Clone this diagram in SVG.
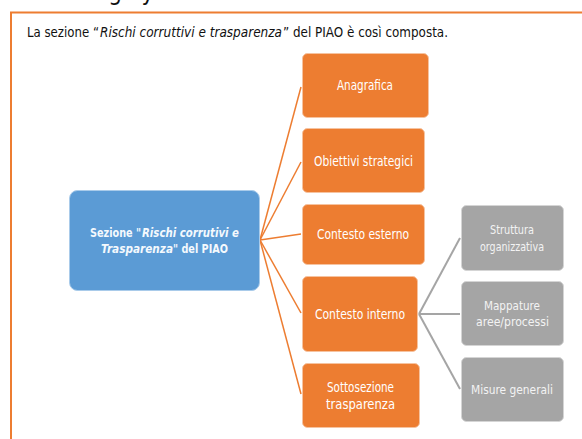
<svg xmlns="http://www.w3.org/2000/svg" width="582" height="439" viewBox="0 0 582 439">
<style>
text{font-family:"DejaVu Sans Condensed","DejaVu Sans","Noto Sans",sans-serif;font-stretch:condensed;fill:#fff;font-size:13.500px}
.h{fill:#111;font-size:14px}
.k{fill:#111;font-size:24px;text-anchor:middle}
.i{font-style:italic}
.w{font-weight:700;font-size:12.500px;fill:#f4f9fd}
.s{font-size:13px;fill:#f3f3f3}
.o rect{fill:#ed7d31;stroke:#f6c3a0;stroke-width:1}
.g rect{fill:#a5a5a5;stroke:#d5d5d5;stroke-width:1}
.b rect{fill:#5b9bd5;stroke:#a9cbea;stroke-width:1}
#conn1 line{stroke:#ed7d31;stroke-width:1.500}
#conn2 line{stroke:#a5a5a5;stroke-width:2}
</style>
<rect width="582" height="439" fill="#fff"/>
<text class="k" x="115" y="0">g</text>
<text class="k" x="148" y="0">y</text>
<path id="frame" d="M11 439V12.500H582" fill="none" stroke="#ed7d31" stroke-width="2"/>
<text class="h" x="27" y="37" textLength="72" lengthAdjust="spacingAndGlyphs">La sezione “</text>
<text class="h i" x="100" y="37" textLength="182" lengthAdjust="spacingAndGlyphs">Rischi corruttivi e trasparenza</text>
<text class="h" x="283" y="37" textLength="165" lengthAdjust="spacingAndGlyphs">” del PIAO è così composta.</text>
<g id="connectors">
<g id="conn1">
<line x1="260" y1="240" x2="301" y2="87"/>
<line x1="260" y1="240" x2="301" y2="162"/>
<line x1="260" y1="240" x2="301" y2="234"/>
<line x1="260" y1="240" x2="301" y2="313"/>
<line x1="260" y1="240" x2="301" y2="394"/>
</g>
<g id="conn2">
<line x1="419" y1="314" x2="460" y2="238"/>
<line x1="419" y1="314" x2="460" y2="314"/>
<line x1="419" y1="314" x2="460" y2="389"/>
</g>
</g>
<g id="n0" class="b"><rect x="69.500" y="190.500" width="190" height="100" rx="8"/>
<text class="w" x="90" y="237" textLength="51" lengthAdjust="spacingAndGlyphs">Sezione "</text>
<text class="w i" x="142" y="237" textLength="97" lengthAdjust="spacingAndGlyphs">Rischi corrutivi e</text>
<text class="w i" x="101" y="253" textLength="72" lengthAdjust="spacingAndGlyphs">Trasparenza</text>
<text class="w" x="173" y="253" textLength="55" lengthAdjust="spacingAndGlyphs">" del PIAO</text></g>
<g id="n1" class="o"><rect x="302.500" y="53.500" width="126" height="64" rx="5"/><text x="337" y="90" textLength="56" lengthAdjust="spacingAndGlyphs">Anagrafica</text></g>
<g id="n2" class="o"><rect x="302.500" y="128.500" width="122" height="64" rx="5"/><text x="314" y="166" textLength="99" lengthAdjust="spacingAndGlyphs">Obiettivi strategici</text></g>
<g id="n3" class="o"><rect x="302.500" y="204.500" width="122" height="60" rx="5"/><text x="317" y="239" textLength="92" lengthAdjust="spacingAndGlyphs">Contesto esterno</text></g>
<g id="n4" class="o"><rect x="302.500" y="276.500" width="115" height="75" rx="5"/><text x="315" y="319" textLength="90" lengthAdjust="spacingAndGlyphs">Contesto interno</text></g>
<g id="n5" class="o"><rect x="302.500" y="363.500" width="117" height="64" rx="5"/><text x="327" y="392" textLength="67" lengthAdjust="spacingAndGlyphs">Sottosezione</text><text x="326" y="409" textLength="69" lengthAdjust="spacingAndGlyphs">trasparenza</text></g>
<g id="n6" class="g"><rect x="461.500" y="205.500" width="102" height="65" rx="5"/><text class="s" x="490" y="234" style="font-size:12px" textLength="44" lengthAdjust="spacingAndGlyphs">Struttura</text><text class="s" x="480" y="251" style="font-size:12px" textLength="64" lengthAdjust="spacingAndGlyphs">organizzativa</text></g>
<g id="n7" class="g"><rect x="461.500" y="281.500" width="102" height="64" rx="5"/><text class="s" x="484" y="310" textLength="56" lengthAdjust="spacingAndGlyphs">Mappature</text><text class="s" x="476" y="326" textLength="73" lengthAdjust="spacingAndGlyphs">aree/processi</text></g>
<g id="n8" class="g"><rect x="461.500" y="357.500" width="102" height="64" rx="5"/><text class="s" x="471" y="394" textLength="82" lengthAdjust="spacingAndGlyphs">Misure generali</text></g>
</svg>
